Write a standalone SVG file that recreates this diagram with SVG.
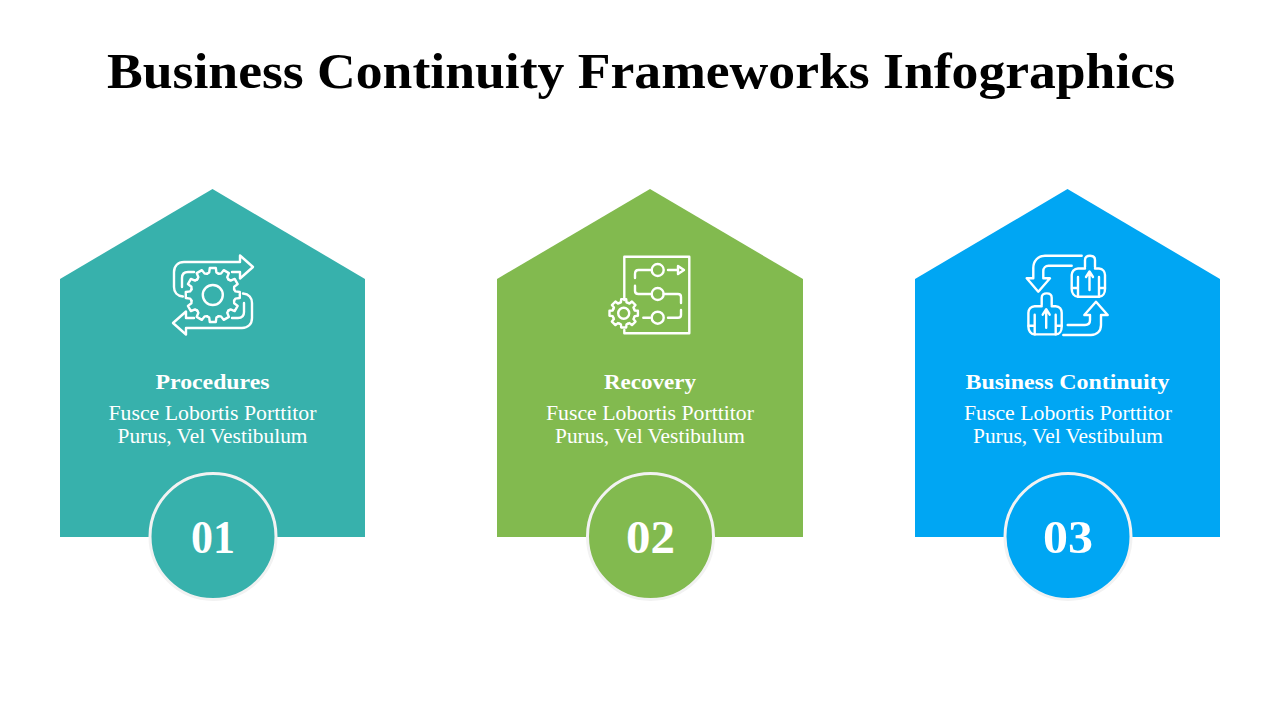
<svg xmlns="http://www.w3.org/2000/svg" xmlns:xlink="http://www.w3.org/1999/xlink" width="1280" height="720" viewBox="0 0 1280 720">
<style>
text{font-family:"Liberation Serif","DejaVu Serif",serif;text-anchor:middle;fill:#fff}
.title{fill:#000;font-weight:700;font-size:51px}
.head{font-weight:700;font-size:22px}
.body{font-size:21px}
.num{font-weight:700;font-size:47px}
.ring{stroke:#f2f2f2;stroke-width:3}
.icon{fill:none;stroke:#fff;stroke-width:2.4;stroke-linejoin:round;stroke-linecap:round}
.teal{fill:#37b1ac}.green{fill:#82ba4f}.blue{fill:#00a6f3}
</style>
<defs>
<path id="t12" d="M-5.7-21.3-3.6-22.6-3-27H3L3.6-22.6 5.7-21.3"/>
<g id="gear12"><use xlink:href="#t12"/><use xlink:href="#t12" transform="rotate(30)"/><use xlink:href="#t12" transform="rotate(60)"/><use xlink:href="#t12" transform="rotate(90)"/><use xlink:href="#t12" transform="rotate(120)"/><use xlink:href="#t12" transform="rotate(150)"/><use xlink:href="#t12" transform="rotate(180)"/><use xlink:href="#t12" transform="rotate(210)"/><use xlink:href="#t12" transform="rotate(240)"/><use xlink:href="#t12" transform="rotate(270)"/><use xlink:href="#t12" transform="rotate(300)"/><use xlink:href="#t12" transform="rotate(330)"/></g>
<path id="t8" d="M-4.3-10.4-2.8-11-2.5-14.2H2.5L2.8-11 4.3-10.4"/>
<g id="gear8"><use xlink:href="#t8"/><use xlink:href="#t8" transform="rotate(45)"/><use xlink:href="#t8" transform="rotate(90)"/><use xlink:href="#t8" transform="rotate(135)"/><use xlink:href="#t8" transform="rotate(180)"/><use xlink:href="#t8" transform="rotate(225)"/><use xlink:href="#t8" transform="rotate(270)"/><use xlink:href="#t8" transform="rotate(315)"/></g>
<path id="arrow1" d="M183 296.500C177 296 174 292 174 287V272C174 266 178 262 184 262H240V255.500L253 267 240 278.500V272H232M194 272H188C184 272 182 274 182 278V287"/>
<g id="person"><path d="M1085 267V260C1085 257 1087 255.700 1090 255.700S1095 257 1095 260V267"/><path d="M1085 268.500H1078C1074 268.500 1071.700 272 1071.700 275V289C1071.700 293 1074 296.700 1078 296.700H1099C1103 296.700 1105 293 1105 289V275C1105 272 1103 268.500 1099 268.500H1095"/><path d="M1089.500 290V272M1086 277 1089.500 271.500 1093 277M1072 288H1078M1105 288H1099M1078 277V296.700M1099 277V296.700"/></g>
</defs>
<text class="title" x="641" y="88" textLength="1068" lengthAdjust="spacingAndGlyphs">Business Continuity Frameworks Infographics</text>

<g id="node-procedures">
<polygon class="teal" points="60,279 212.500,189 365,279 365,537 60,537"/>
<g class="icon">
<use xlink:href="#arrow1"/><use xlink:href="#arrow1" transform="rotate(180 213 295)"/>
<g transform="translate(212.800 295)"><use xlink:href="#gear12"/><circle r="10"/></g>
</g>
<text class="head" x="212.500" y="389" textLength="114" lengthAdjust="spacingAndGlyphs">Procedures</text>
<text class="body" x="212.500" y="420" textLength="208" lengthAdjust="spacingAndGlyphs">Fusce Lobortis Porttitor</text>
<text class="body" x="212.500" y="443" textLength="190" lengthAdjust="spacingAndGlyphs">Purus, Vel Vestibulum</text>
<circle class="teal ring" cx="213" cy="536.500" r="63"/>
<text class="num" x="213" y="553" textLength="44" lengthAdjust="spacingAndGlyphs">01</text>
</g>

<g id="node-recovery">
<polygon class="green" points="497,279 650,189 803,279 803,537 497,537"/>
<g class="icon">
<path d="M624.300 300V256.700H689.300V333.300H624.300V330"/>
<circle cx="657.700" cy="270" r="6"/><circle cx="657.700" cy="294" r="6"/><circle cx="657.700" cy="317.700" r="6"/>
<path d="M668 270H678M678 266 684 270 678 274ZM651.700 270H638.500C636 270 635 272 635 274V278M635 285.700V291C635 293 636 294 638.500 294H651.700M663.500 294H678C680 294 681 295 681 297V303M681 310V315C681 317 680 317.700 678 317.700H668M643.300 317.700H650"/>
<g transform="translate(623.700 313.300)"><use xlink:href="#gear8"/><circle r="5.500"/></g>
</g>
<text class="head" x="650" y="389" textLength="92" lengthAdjust="spacingAndGlyphs">Recovery</text>
<text class="body" x="650" y="420" textLength="208" lengthAdjust="spacingAndGlyphs">Fusce Lobortis Porttitor</text>
<text class="body" x="650" y="443" textLength="190" lengthAdjust="spacingAndGlyphs">Purus, Vel Vestibulum</text>
<circle class="green ring" cx="650.500" cy="536.500" r="63"/>
<text class="num" x="650.500" y="553" textLength="49" lengthAdjust="spacingAndGlyphs">02</text>
</g>

<g id="node-business-continuity">
<polygon class="blue" points="915,279 1067.500,189 1220,279 1220,537 915,537"/>
<g class="icon">
<path d="M1081.700 255.700H1045C1038 255.700 1033.300 261 1033.300 268V278.300H1026.700L1038.300 291.700 1050 278.300H1043.300V271C1043.300 268 1045.500 265.700 1048.500 265.700H1071.700"/>
<path d="M1063.300 335H1091C1097 335 1101 331 1101 325V315H1107.700L1096 301.700 1084.300 315H1090V320C1090 323 1088 325 1085 325H1067.700"/>
<use xlink:href="#person"/><use xlink:href="#person" transform="translate(-43.300 37.700)"/>
</g>
<text class="head" x="1067.500" y="389" textLength="204" lengthAdjust="spacingAndGlyphs">Business Continuity</text>
<text class="body" x="1068" y="420" textLength="208" lengthAdjust="spacingAndGlyphs">Fusce Lobortis Porttitor</text>
<text class="body" x="1068" y="443" textLength="190" lengthAdjust="spacingAndGlyphs">Purus, Vel Vestibulum</text>
<circle class="blue ring" cx="1068" cy="536.500" r="63"/>
<text class="num" x="1068" y="553" textLength="50" lengthAdjust="spacingAndGlyphs">03</text>
</g>
</svg>
